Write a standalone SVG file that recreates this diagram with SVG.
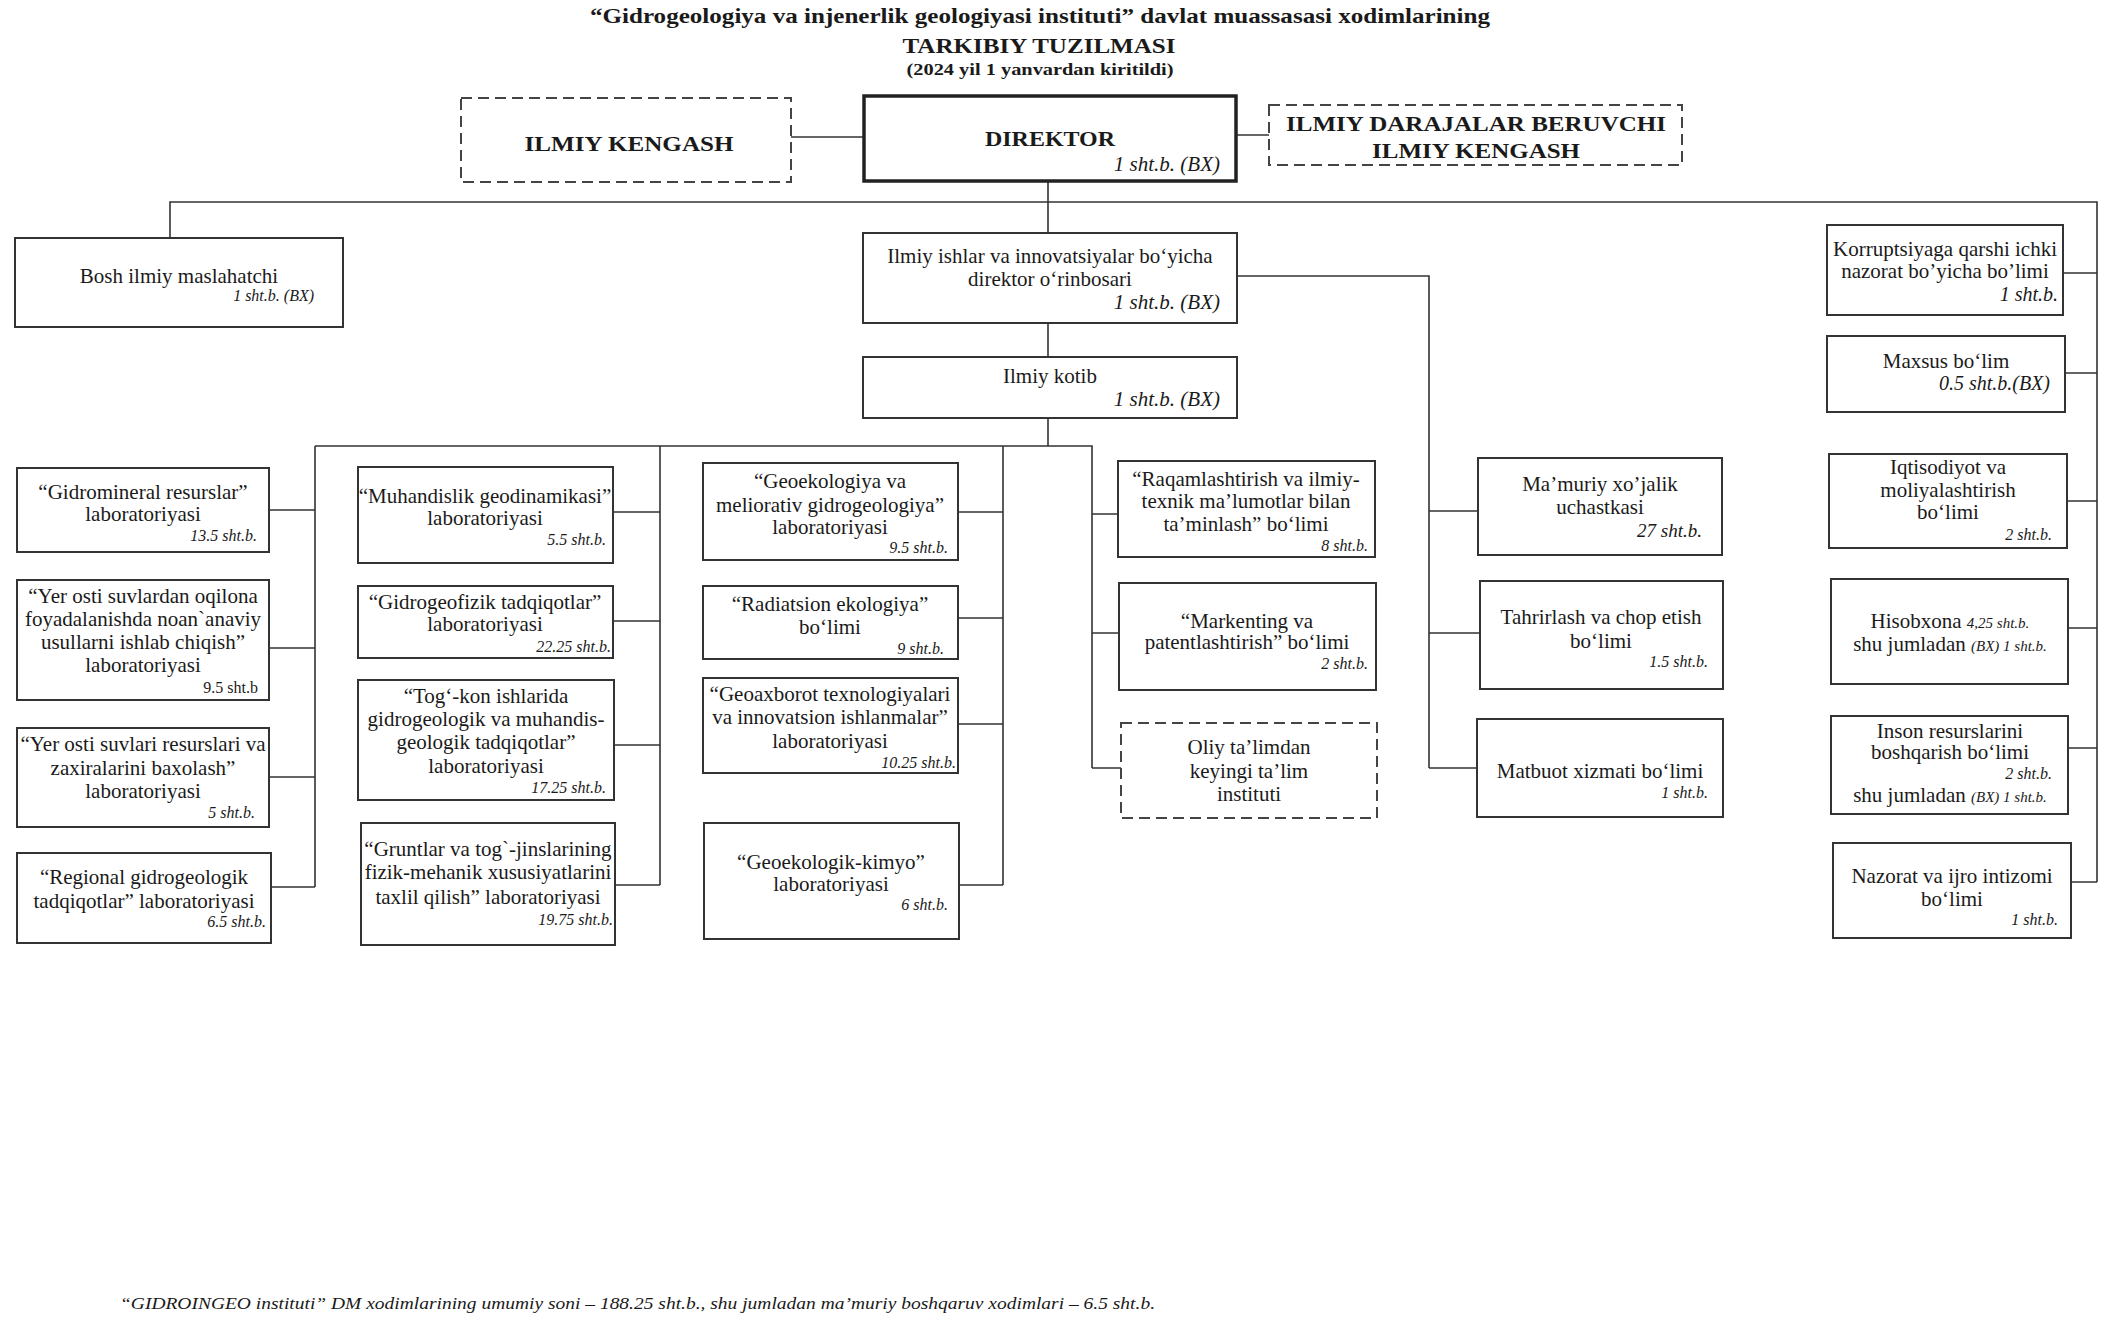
<svg xmlns="http://www.w3.org/2000/svg" width="2112" height="1331" viewBox="0 0 2112 1331">
<style>
.bx{fill:#fff;stroke:#333;stroke-width:2}
.ds{fill:#fff;stroke:#444;stroke-width:2;stroke-dasharray:11 6}
.tk{fill:#fff;stroke:#222;stroke-width:3.5}
text{font-family:"Liberation Serif","Times New Roman",serif;fill:#1a1a1a}
.t{font-size:21px;text-anchor:middle}
.s{font-size:16px;font-style:italic;text-anchor:end}
.su{font-size:16px;text-anchor:end}
.sl{font-size:20px;font-style:italic;text-anchor:end}
.sx{font-size:21px;font-style:italic;text-anchor:end}
.h{font-size:22px;font-weight:bold;text-anchor:middle}
.it{font-size:15px;font-style:italic}
#connectors path{fill:none;stroke:#333;stroke-width:1.6}
</style>
<rect width="2112" height="1331" fill="#fff"/>
<g id="title">
<text class="h" x="1040" y="23" textLength="900" lengthAdjust="spacingAndGlyphs">“Gidrogeologiya va injenerlik geologiyasi instituti” davlat muassasasi xodimlarining</text>
<text class="h" x="1039" y="53" textLength="273" lengthAdjust="spacingAndGlyphs">TARKIBIY TUZILMASI</text>
<text x="1040" y="75" font-size="17" font-weight="bold" text-anchor="middle" textLength="267" lengthAdjust="spacingAndGlyphs">(2024 yil 1 yanvardan  kiritildi)</text>
</g>
<g id="connectors">
<path d="M791,137H864"/>
<path d="M1236,135H1269"/>
<path d="M1048,181V233"/>
<path d="M170,238V202H2097V882"/>
<path d="M2063,273H2097M2065,373H2097M2067,501H2097M2068,628H2097M2068,748H2097M2071,882H2097"/>
<path d="M1048,323V357"/>
<path d="M1237,276H1429V768"/>
<path d="M1429,511H1478M1429,633H1480M1429,768H1477"/>
<path d="M1048,418V446"/>
<path d="M315,446H1092V768"/>
<path d="M315,446V887M269,510H315M269,648H315M269,777H315M271,887H315"/>
<path d="M660,446V885M613,512H660M613,621H660M614,745H660M615,885H660"/>
<path d="M1003,446V885M958,512H1003M958,618H1003M958,724H1003M959,885H1003"/>
<path d="M1092,514H1118M1092,633H1119M1092,768H1121"/>
</g>
<g id="ilmiy-kengash"><rect class="ds" x="461" y="98" width="330" height="84"/>
<text class="h" x="629" y="151" textLength="209" lengthAdjust="spacingAndGlyphs">ILMIY KENGASH</text></g>
<g id="direktor"><rect class="tk" x="864" y="96" width="372" height="85"/>
<text class="h" x="1050" y="146" textLength="130" lengthAdjust="spacingAndGlyphs">DIREKTOR</text>
<text class="sx" x="1220" y="171" font-size="22">1 sht.b. (BX)</text></g>
<g id="darajalar"><rect class="ds" x="1269" y="105" width="413" height="60"/>
<text class="h" x="1476" y="131" textLength="380" lengthAdjust="spacingAndGlyphs">ILMIY DARAJALAR BERUVCHI</text>
<text class="h" x="1476" y="158" textLength="208" lengthAdjust="spacingAndGlyphs">ILMIY KENGASH</text></g>
<g id="bosh"><rect class="bx" x="15" y="238" width="328" height="89"/>
<text class="t" x="179" y="283">Bosh ilmiy maslahatchi</text>
<text class="s" x="314" y="301">1 sht.b. (BX)</text></g>
<g id="orinbosar"><rect class="bx" x="863" y="233" width="374" height="90"/>
<text class="t" x="1050" y="263">Ilmiy ishlar va innovatsiyalar bo‘yicha</text>
<text class="t" x="1050" y="286">direktor o‘rinbosari</text>
<text class="sx" x="1220" y="309">1 sht.b. (BX)</text></g>
<g id="kotib"><rect class="bx" x="863" y="357" width="374" height="61"/>
<text class="t" x="1050" y="383">Ilmiy kotib</text>
<text class="sx" x="1220" y="406">1 sht.b. (BX)</text></g>
<g id="korruptsiya"><rect class="bx" x="1827" y="225" width="236" height="90"/>
<text class="t" x="1945" y="256">Korruptsiyaga qarshi ichki</text>
<text class="t" x="1945" y="278">nazorat bo’yicha bo’limi</text>
<text class="sl" x="2058" y="301">1 sht.b.</text></g>
<g id="maxsus"><rect class="bx" x="1827" y="336" width="238" height="76"/>
<text class="t" x="1946" y="368">Maxsus bo‘lim</text>
<text class="sl" x="2050" y="390">0.5 sht.b.(BX)</text></g>
<g id="gidromineral"><rect class="bx" x="17" y="468" width="252" height="84"/>
<text class="t" x="143" y="499">“Gidromineral resurslar”</text>
<text class="t" x="143" y="521">laboratoriyasi</text>
<text class="s" x="257" y="541">13.5 sht.b.</text></g>
<g id="yerosti-oqilona"><rect class="bx" x="17" y="580" width="252" height="120"/>
<text class="t" x="143" y="603">“Yer osti suvlardan oqilona</text>
<text class="t" x="143" y="626">foyadalanishda noan`anaviy</text>
<text class="t" x="143" y="649">usullarni ishlab chiqish”</text>
<text class="t" x="143" y="672">laboratoriyasi</text>
<text class="su" x="258" y="693">9.5 sht.b</text></g>
<g id="yerosti-resurs"><rect class="bx" x="17" y="728" width="252" height="99"/>
<text class="t" x="143" y="751">“Yer osti suvlari resurslari va</text>
<text class="t" x="143" y="775">zaxiralarini baxolash”</text>
<text class="t" x="143" y="798">laboratoriyasi</text>
<text class="s" x="255" y="818">5 sht.b.</text></g>
<g id="regional"><rect class="bx" x="17" y="853" width="254" height="90"/>
<text class="t" x="144" y="884">“Regional gidrogeologik</text>
<text class="t" x="144" y="908">tadqiqotlar” laboratoriyasi</text>
<text class="s" x="266" y="927">6.5 sht.b.</text></g>
<g id="muhandislik"><rect class="bx" x="358" y="467" width="255" height="96"/>
<text class="t" x="485" y="503">“Muhandislik geodinamikasi”</text>
<text class="t" x="485" y="525">laboratoriyasi</text>
<text class="s" x="606" y="545">5.5 sht.b.</text></g>
<g id="gidrogeofizik"><rect class="bx" x="358" y="586" width="255" height="72"/>
<text class="t" x="485" y="609">“Gidrogeofizik tadqiqotlar”</text>
<text class="t" x="485" y="631">laboratoriyasi</text>
<text class="s" x="611" y="652">22.25 sht.b.</text></g>
<g id="togkon"><rect class="bx" x="358" y="680" width="256" height="120"/>
<text class="t" x="486" y="703">“Tog‘-kon ishlarida</text>
<text class="t" x="486" y="726">gidrogeologik va muhandis-</text>
<text class="t" x="486" y="749">geologik tadqiqotlar”</text>
<text class="t" x="486" y="773">laboratoriyasi</text>
<text class="s" x="606" y="793">17.25  sht.b.</text></g>
<g id="gruntlar"><rect class="bx" x="361" y="823" width="254" height="122"/>
<text class="t" x="488" y="856">“Gruntlar va tog`-jinslarining</text>
<text class="t" x="488" y="879">fizik-mehanik xususiyatlarini</text>
<text class="t" x="488" y="904">taxlil qilish” laboratoriyasi</text>
<text class="s" x="613" y="925">19.75 sht.b.</text></g>
<g id="geoekologiya"><rect class="bx" x="703" y="463" width="255" height="97"/>
<text class="t" x="830" y="488">“Geoekologiya va</text>
<text class="t" x="830" y="512">meliorativ gidrogeologiya”</text>
<text class="t" x="830" y="534">laboratoriyasi</text>
<text class="s" x="948" y="553">9.5 sht.b.</text></g>
<g id="radiatsion"><rect class="bx" x="703" y="586" width="255" height="73"/>
<text class="t" x="830" y="611">“Radiatsion ekologiya”</text>
<text class="t" x="830" y="634">bo‘limi</text>
<text class="s" x="944" y="654">9 sht.b.</text></g>
<g id="geoaxborot"><rect class="bx" x="703" y="678" width="255" height="95"/>
<text class="t" x="830" y="701">“Geoaxborot texnologiyalari</text>
<text class="t" x="830" y="724">va innovatsion ishlanmalar”</text>
<text class="t" x="830" y="748">laboratoriyasi</text>
<text class="s" x="956" y="768">10.25 sht.b.</text></g>
<g id="geoekologik-kimyo"><rect class="bx" x="704" y="823" width="255" height="116"/>
<text class="t" x="831" y="869">“Geoekologik-kimyo”</text>
<text class="t" x="831" y="891">laboratoriyasi</text>
<text class="s" x="948" y="910">6 sht.b.</text></g>
<g id="raqamlashtirish"><rect class="bx" x="1118" y="461" width="257" height="96"/>
<text class="t" x="1246" y="486">“Raqamlashtirish va ilmiy-</text>
<text class="t" x="1246" y="508">texnik ma’lumotlar bilan</text>
<text class="t" x="1246" y="531">ta’minlash” bo‘limi</text>
<text class="s" x="1368" y="551">8 sht.b.</text></g>
<g id="markenting"><rect class="bx" x="1119" y="583" width="257" height="107"/>
<text class="t" x="1247" y="628">“Markenting va</text>
<text class="t" x="1247" y="649">patentlashtirish” bo‘limi</text>
<text class="s" x="1368" y="669">2 sht.b.</text></g>
<g id="oliy"><rect class="ds" x="1121" y="723" width="256" height="95"/>
<text class="t" x="1249" y="754">Oliy ta’limdan</text>
<text class="t" x="1249" y="778">keyingi ta’lim</text>
<text class="t" x="1249" y="801">instituti</text></g>
<g id="mamuriy"><rect class="bx" x="1478" y="458" width="244" height="97"/>
<text class="t" x="1600" y="491">Ma’muriy xo’jalik</text>
<text class="t" x="1600" y="514">uchastkasi</text>
<text x="1702" y="537" font-size="19" font-style="italic" text-anchor="end">27 sht.b.</text></g>
<g id="tahrirlash"><rect class="bx" x="1480" y="581" width="243" height="108"/>
<text class="t" x="1601" y="624">Tahrirlash va chop etish</text>
<text class="t" x="1601" y="648">bo‘limi</text>
<text class="s" x="1708" y="667">1.5 sht.b.</text></g>
<g id="matbuot"><rect class="bx" x="1477" y="719" width="246" height="98"/>
<text class="t" x="1600" y="778">Matbuot xizmati bo‘limi</text>
<text class="s" x="1708" y="798">1 sht.b.</text></g>
<g id="iqtisodiyot"><rect class="bx" x="1829" y="454" width="238" height="94"/>
<text class="t" x="1948" y="474">Iqtisodiyot va</text>
<text class="t" x="1948" y="497">moliyalashtirish</text>
<text class="t" x="1948" y="519">bo‘limi</text>
<text class="s" x="2052" y="540">2 sht.b.</text></g>
<g id="hisobxona"><rect class="bx" x="1831" y="579" width="237" height="105"/>
<text class="t" x="1950" y="628">Hisobxona <tspan class="it">4,25 sht.b.</tspan></text>
<text class="t" x="1950" y="651">shu jumladan <tspan class="it">(BX) 1 sht.b.</tspan></text></g>
<g id="inson"><rect class="bx" x="1831" y="716" width="237" height="98"/>
<text class="t" x="1950" y="738">Inson resurslarini</text>
<text class="t" x="1950" y="759">boshqarish bo‘limi</text>
<text class="s" x="2052" y="779">2 sht.b.</text>
<text class="t" x="1950" y="802">shu jumladan <tspan class="it">(BX) 1 sht.b.</tspan></text></g>
<g id="nazorat"><rect class="bx" x="1833" y="843" width="238" height="95"/>
<text class="t" x="1952" y="883">Nazorat va ijro intizomi</text>
<text class="t" x="1952" y="906">bo‘limi</text>
<text class="s" x="2058" y="925">1 sht.b.</text></g>
<g id="footnote">
<text x="120" y="1309" font-size="17" font-style="italic" textLength="1035" lengthAdjust="spacingAndGlyphs">“GIDROINGEO instituti” DM xodimlarining umumiy soni – 188.25 sht.b., shu jumladan ma’muriy boshqaruv xodimlari – 6.5 sht.b.</text>
</g>
</svg>
